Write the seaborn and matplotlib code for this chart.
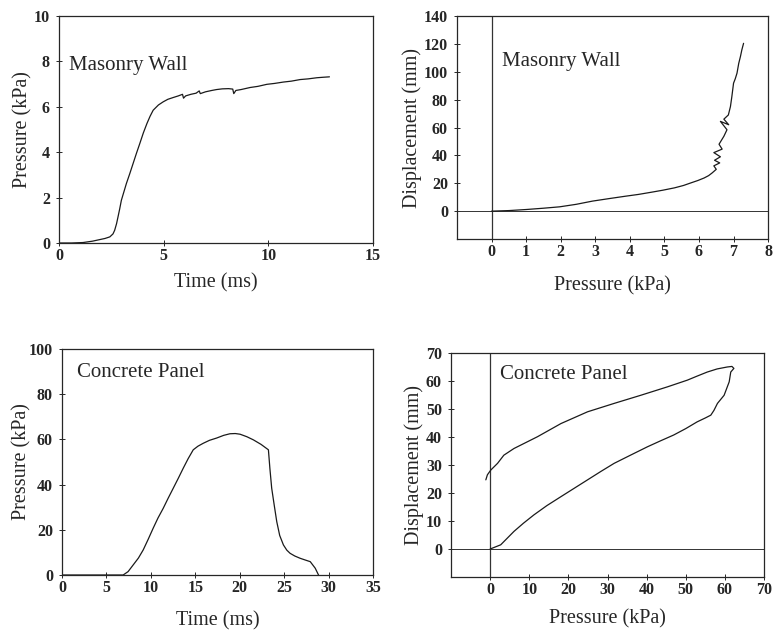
import numpy as np
import pandas as pd
import matplotlib
matplotlib.use("Agg")
import matplotlib.pyplot as plt
import seaborn as sns

# --------------------
# Data
# --------------------
# Masonry wall: pressure-time history
mw_time = [0.0, 0.6, 1.15, 1.6, 1.95, 2.2, 2.43, 2.58, 2.66, 2.75, 2.82, 2.9, 2.98,
           3.1, 3.22, 3.38, 3.54, 3.7, 3.86, 4.03, 4.2, 4.35, 4.5, 4.75, 4.98,
           5.2, 5.46, 5.7, 5.9, 5.95, 6.05, 6.3, 6.55, 6.7, 6.75, 7.0, 7.3, 7.53,
           7.8, 8.1, 8.3, 8.35, 8.45, 8.7, 9.13, 9.5, 9.93, 10.3, 10.72, 11.1,
           11.52, 11.9, 12.32, 12.6, 12.92]
mw_press = [0.0, 0.0, 0.02, 0.08, 0.15, 0.2, 0.27, 0.4, 0.56, 0.85, 1.15, 1.5, 1.88,
            2.25, 2.62, 3.05, 3.5, 3.95, 4.38, 4.85, 5.26, 5.58, 5.85, 6.08, 6.22,
            6.33, 6.41, 6.48, 6.55, 6.38, 6.48, 6.55, 6.6, 6.7, 6.58, 6.66, 6.72,
            6.76, 6.79, 6.8, 6.78, 6.58, 6.72, 6.76, 6.85, 6.9, 6.99, 7.03, 7.09,
            7.13, 7.2, 7.23, 7.28, 7.3, 7.32]

# Masonry wall: displacement vs pressure
mw_p = [0.0, 0.5, 1.02, 1.5, 1.97, 2.45, 2.92, 3.4, 3.87, 4.25, 4.63, 4.95, 5.29,
        5.55, 5.77, 5.97, 6.15, 6.28, 6.38, 6.5, 6.43, 6.6, 6.45, 6.62, 6.43,
        6.67, 6.58, 6.72, 6.81, 6.62, 6.86, 6.72, 6.85, 6.91, 6.95, 7.0, 7.05,
        7.1, 7.15, 7.2, 7.24, 7.29]
mw_disp = [0.0, 0.4, 1.2, 2.1, 3.1, 4.9, 7.2, 9.0, 10.7, 12.0, 13.6, 15.0, 16.7,
           18.4, 20.3, 22.0, 23.8, 25.5, 27.4, 30.0, 32.5, 34.6, 36.5, 39.0, 42.0,
           44.5, 48.0, 53.7, 58.4, 64.4, 62.0, 66.0, 69.0, 75.0, 82.0, 91.8, 95.0,
           99.0, 106.0, 111.0, 115.7, 120.4]

# Concrete panel: pressure-time history
cp_time = [0.0, 3.0, 6.88, 7.44, 8.0, 8.6, 9.14, 9.7, 10.26, 10.8, 11.39, 11.95,
           12.52, 13.1, 13.65, 14.2, 14.77, 15.3, 15.9, 16.6, 17.4, 18.2, 18.9,
           19.5, 20.04, 20.8, 21.54, 22.4, 23.23, 23.4, 23.6, 23.9, 24.17, 24.5,
           24.92, 25.3, 25.67, 26.2, 26.8, 27.4, 27.94, 28.5, 28.87]
cp_press = [0.0, 0.0, 0.0, 1.5, 4.4, 7.5, 11.1, 15.8, 20.7, 25.2, 29.5, 34.0,
            38.4, 42.9, 47.3, 51.5, 55.4, 57.0, 58.3, 59.6, 60.6, 61.8, 62.5,
            62.6, 62.3, 61.2, 59.8, 57.8, 55.4, 47.0, 38.4, 30.5, 23.6, 17.5,
            13.3, 11.0, 9.6, 8.4, 7.4, 6.6, 5.9, 3.0, 0.0]

# Concrete panel: displacement vs pressure (loading then unloading)
cp_p = [0.0, 2.7, 6.1, 8.5, 11.2, 14.5, 18.1, 21.5, 24.9, 28.3, 31.7, 36.0, 40.2,
        43.5, 46.9, 50.0, 52.9, 55.0, 56.4, 57.2, 58.1, 59.8, 61.1, 61.5, 62.3,
        61.8, 60.6, 58.0, 55.5, 53.0, 50.4, 45.3, 38.5, 31.7, 24.9, 18.1, 12.1,
        6.1, 3.5, 1.9, 0.17, -0.7, -1.1]
cp_disp = [0.0, 1.5, 6.3, 9.2, 12.2, 15.5, 18.7, 21.7, 24.7, 27.7, 30.6, 33.6, 36.5,
           38.6, 40.7, 43.0, 45.4, 46.8, 47.8, 49.5, 52.0, 54.9, 59.7, 63.2, 64.5,
           65.2, 65.0, 64.3, 63.2, 61.8, 60.3, 57.9, 54.9, 52.0, 49.0, 44.8, 40.1,
           35.9, 33.5, 30.6, 28.2, 26.5, 24.7]

# --------------------
# Plot aesthetics
# --------------------
sns.set_style("ticks")
plt.rcParams.update({
    "font.family": ["Liberation Serif", "DejaVu Serif"],
    "font.size": 14.5,
    "axes.linewidth": 0.9,
    "xtick.direction": "inout",
    "ytick.direction": "inout",
    "xtick.major.size": 5,
    "ytick.major.size": 5,
    "xtick.major.width": 0.7,
    "ytick.major.width": 0.7,
    "xtick.major.pad": 1,
    "ytick.major.pad": 4,
    "xtick.labelsize": 11.5,
    "ytick.labelsize": 11.5,
})

fig = plt.figure(figsize=(7.74, 6.3), dpi=100)
ax_tl = fig.add_axes([0.0762, 0.6143, 0.4057, 0.3603])
ax_tr = fig.add_axes([0.5904, 0.6206, 0.4020, 0.3540])
ax_bl = fig.add_axes([0.0801, 0.0873, 0.4018, 0.3587])
ax_br = fig.add_axes([0.5827, 0.0841, 0.4044, 0.3556])

line_kw = dict(color="#1a1a1a", linewidth=0.9, sort=False, estimator=None)
note_size = 15

# --------------------
# Masonry wall, pressure vs time
# --------------------
df = pd.DataFrame({"t": mw_time, "p": mw_press})
sns.lineplot(data=df, x="t", y="p", ax=ax_tl, **line_kw)
ax_tl.set_xlim(0, 15)
ax_tl.set_ylim(0, 10)
ax_tl.set_xticks([0, 5, 10, 15])
ax_tl.set_yticks([0, 2, 4, 6, 8, 10])
ax_tl.set_xlabel("Time (ms)", labelpad=7)
ax_tl.set_ylabel("Pressure (kPa)", labelpad=1)
ax_tl.text(0.032, 0.784, "Masonry Wall", transform=ax_tl.transAxes,
           va="center", ha="left", fontsize=note_size)

# --------------------
# Masonry wall, displacement vs pressure
# --------------------
df = pd.DataFrame({"p": mw_p, "d": mw_disp})
ax_tr.axhline(0, color="#333333", linewidth=0.7)
ax_tr.axvline(0, color="#333333", linewidth=0.9)
sns.lineplot(data=df, x="p", y="d", ax=ax_tr, **line_kw)
ax_tr.set_xlim(-1, 8)
ax_tr.set_ylim(-20, 140)
ax_tr.set_xticks(range(0, 9))
ax_tr.set_yticks(range(0, 141, 20))
ax_tr.set_xlabel("Pressure (kPa)", labelpad=12)
ax_tr.set_ylabel("Displacement (mm)", labelpad=1)
ax_tr.text(0.146, 0.794, "Masonry Wall", transform=ax_tr.transAxes,
           va="center", ha="left", fontsize=note_size)

# --------------------
# Concrete panel, pressure vs time
# --------------------
df = pd.DataFrame({"t": cp_time, "p": cp_press})
sns.lineplot(data=df, x="t", y="p", ax=ax_bl, **line_kw)
ax_bl.set_xlim(0, 35)
ax_bl.set_ylim(0, 100)
ax_bl.set_xticks(range(0, 36, 5))
ax_bl.set_yticks(range(0, 101, 20))
ax_bl.set_xlabel("Time (ms)", labelpad=11)
ax_bl.set_ylabel("Pressure (kPa)", labelpad=-2)
ax_bl.text(0.048, 0.898, "Concrete Panel", transform=ax_bl.transAxes,
           va="center", ha="left", fontsize=note_size)

# --------------------
# Concrete panel, displacement vs pressure
# --------------------
df = pd.DataFrame({"p": cp_p, "d": cp_disp})
ax_br.axhline(0, color="#333333", linewidth=0.7)
ax_br.axvline(0, color="#333333", linewidth=0.9)
sns.lineplot(data=df, x="p", y="d", ax=ax_br, **line_kw)
ax_br.set_xlim(-10, 70)
ax_br.set_ylim(-10, 70)
ax_br.set_xticks(range(0, 71, 10))
ax_br.set_yticks(range(0, 71, 10))
ax_br.set_xlabel("Pressure (kPa)", labelpad=8)
ax_br.set_ylabel("Displacement (mm)", labelpad=1)
ax_br.text(0.157, 0.906, "Concrete Panel", transform=ax_br.transAxes,
           va="center", ha="left", fontsize=note_size)

for ax in (ax_tl, ax_tr, ax_bl, ax_br):
    for lab in ax.get_xticklabels() + ax.get_yticklabels():
        lab.set_fontweight("bold")
    ax.tick_params(top=False, right=False)

fig.savefig("out.png", dpi=100)
